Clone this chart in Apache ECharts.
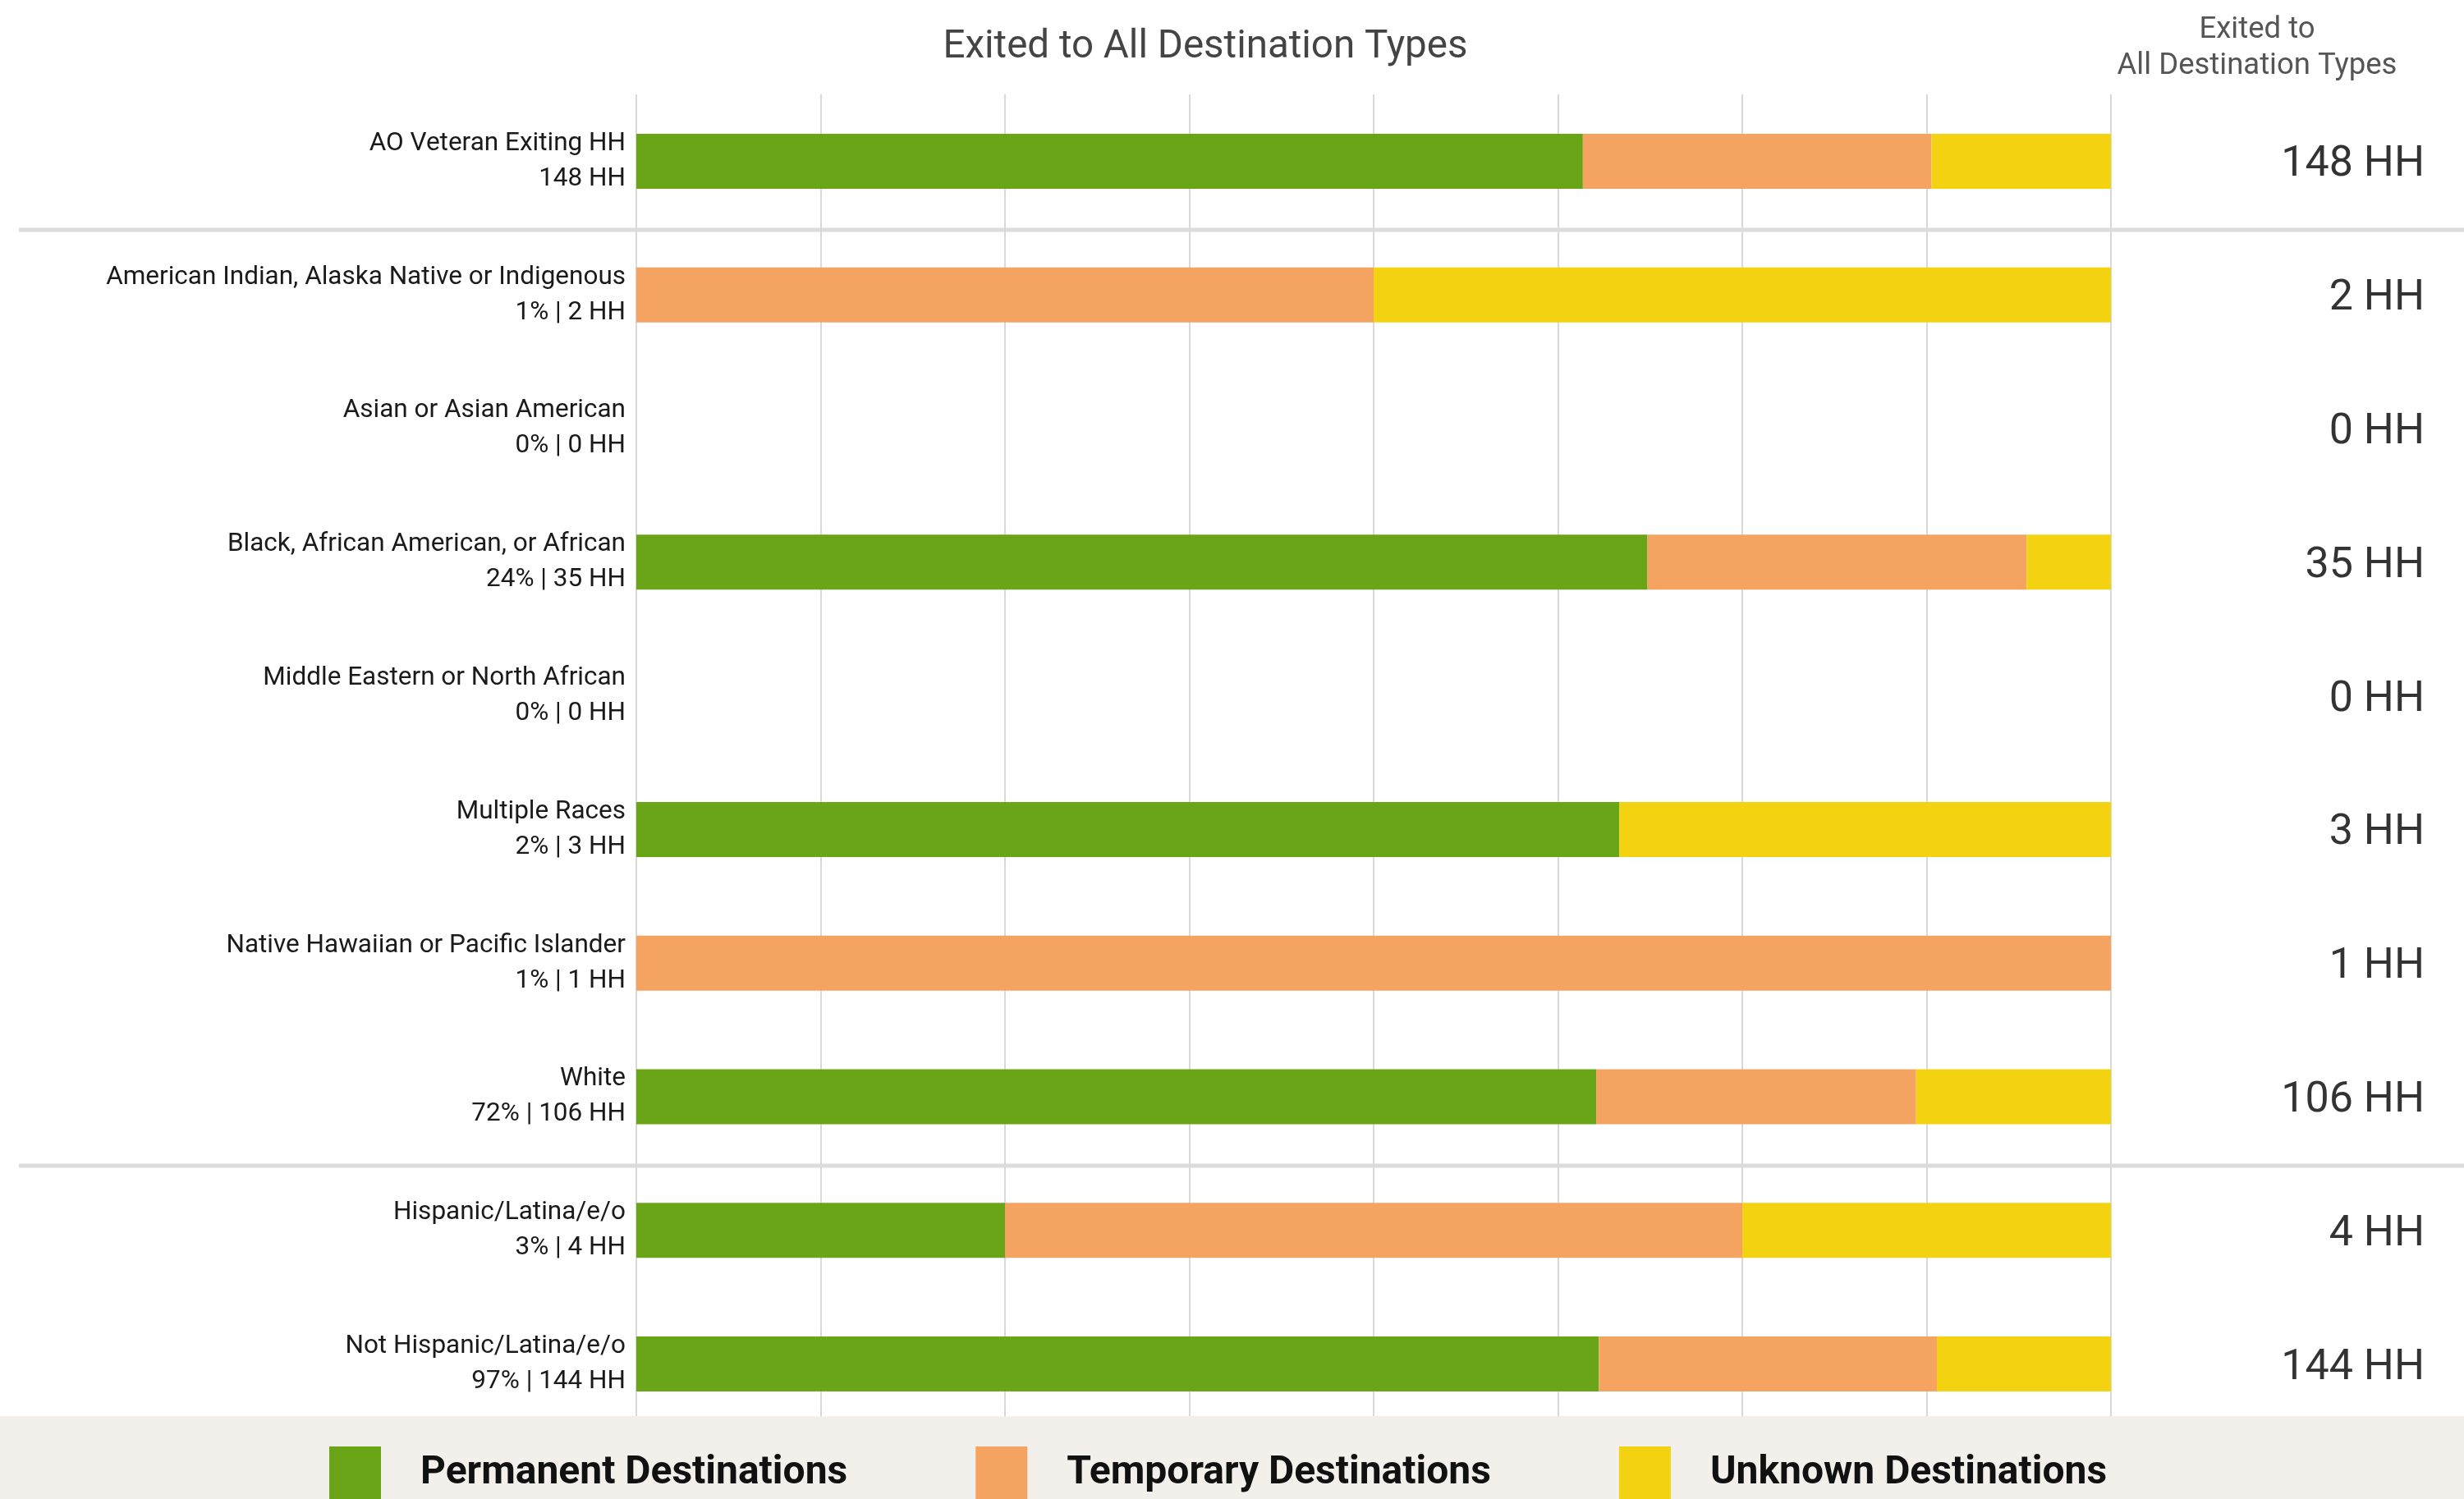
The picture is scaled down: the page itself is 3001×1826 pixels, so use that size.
<!DOCTYPE html>
<html>
<head>
<meta charset="utf-8">
<script src="https://cdn.jsdelivr.net/npm/echarts@6/dist/echarts.min.js"></script>
<style>
  html, body { margin: 0; padding: 0; background: #ffffff; }
  #chart { width: 3001px; height: 1826px; }
</style>
</head>
<body>
<div id="chart"></div>
<script>
// categories (top to bottom)
const categories = [
  'AO Veteran Exiting HH',
  'American Indian, Alaska Native or Indigenous',
  'Asian or Asian American',
  'Black, African American, or African',
  'Middle Eastern or North African',
  'Multiple Races',
  'Native Hawaiian or Pacific Islander',
  'White',
  'Hispanic/Latina/e/o',
  'Not Hispanic/Latina/e/o'
];
const subLabels = ['148 HH', '1% | 2 HH', '0% | 0 HH', '24% | 35 HH', '0% | 0 HH',
  '2% | 3 HH', '1% | 1 HH', '72% | 106 HH', '3% | 4 HH', '97% | 144 HH'];
const rightLabels = ['148 HH', '2 HH', '0 HH', '35 HH', '0 HH', '3 HH', '1 HH', '106 HH', '4 HH', '144 HH'];

// household counts per destination type
const totals    = [148, 2, 0, 35, 0, 3, 1, 106, 4, 144];
const permanent = [95, 0, 0, 24, 0, 2, 0, 69, 1, 94];
const temporary = [35, 1, 0, 9, 0, 0, 1, 23, 2, 33];
const unknown   = [18, 1, 0, 2, 0, 1, 0, 14, 1, 17];

const seriesNames = ['Permanent Destinations', 'Temporary Destinations', 'Unknown Destinations'];
const colors = ['#6aa518', '#f4a460', '#f3d311'];

const share = arr => arr.map((v, i) => totals[i] ? v / totals[i] * 100 : 0);

const FONT = 'Roboto, sans-serif';

const chart = echarts.init(document.getElementById('chart'));

const option = {
  animation: false,
  textStyle: { fontFamily: FONT },
  color: colors,
  grid: { left: 775, right: 430, top: 115, bottom: 83 },
  legend: {
    data: seriesNames,
    left: 396,
    top: 1757,
    z: 10,
    icon: 'rect',
    itemWidth: 63,
    itemHeight: 66,
    itemGap: 156,
    textStyle: {
      fontFamily: FONT,
      fontSize: 48,
      fontWeight: 'bold',
      color: '#111',
      padding: [0, 0, 0, 43]
    }
  },
  xAxis: {
    type: 'value',
    min: 0,
    max: 100,
    interval: 12.5,
    axisLabel: { show: false },
    axisLine: { show: false },
    axisTick: { show: false },
    splitLine: { lineStyle: { color: '#d9d9d9', width: 2 } }
  },
  yAxis: [
    {
      type: 'category',
      inverse: true,
      data: categories,
      axisLine: { show: false },
      axisTick: { show: false },
      axisLabel: {
        margin: 13,
        formatter: (value, idx) => '{a|' + value + '}\n{b|' + subLabels[idx] + '}',
        rich: {
          a: { fontFamily: FONT, fontSize: 31.5, color: '#1a1a1a', lineHeight: 43, align: 'right' },
          b: { fontFamily: FONT, fontSize: 31.5, color: '#1a1a1a', lineHeight: 43, align: 'right' }
        }
      }
    },
    {
      type: 'category',
      position: 'right',
      inverse: true,
      data: rightLabels,
      axisLine: { show: false },
      axisTick: { show: false },
      axisLabel: {
        margin: 382,
        align: 'right',
        formatter: value => '{v|' + value + '}',
        rich: {
          v: { fontFamily: FONT, fontSize: 52, color: '#333', padding: [10, 0, 0, 0] }
        }
      }
    }
  ],
  graphic: [
    {
      type: 'text',
      x: 1468, y: 58, z: 10,
      style: { text: 'Exited to All Destination Types', fontFamily: FONT, fontSize: 47.5,
        fill: '#444', textAlign: 'center', textVerticalAlign: 'middle' }
    },
    {
      type: 'text',
      x: 2749, y: 59, z: 10,
      style: { text: 'Exited to\nAll Destination Types', fontFamily: FONT, fontSize: 36.5,
        lineHeight: 44, fill: '#555', textAlign: 'center', textVerticalAlign: 'middle' }
    },
    {
      type: 'line', z: 5,
      shape: { x1: 23, y1: 280, x2: 3001, y2: 280 },
      style: { stroke: '#dcdcdc', lineWidth: 5 }
    },
    {
      type: 'line', z: 5,
      shape: { x1: 23, y1: 1420, x2: 3001, y2: 1420 },
      style: { stroke: '#dcdcdc', lineWidth: 5 }
    },
    {
      type: 'rect', z: 5,
      shape: { x: 0, y: 1725, width: 3001, height: 101 },
      style: { fill: '#f3f0eb' }
    }
  ],
  series: [
    { name: seriesNames[0], type: 'bar', stack: 'dest', barWidth: 67, data: share(permanent) },
    { name: seriesNames[1], type: 'bar', stack: 'dest', barWidth: 67, data: share(temporary) },
    { name: seriesNames[2], type: 'bar', stack: 'dest', barWidth: 67, data: share(unknown) }
  ]
};

chart.setOption(option);
</script>
</body>
</html>
